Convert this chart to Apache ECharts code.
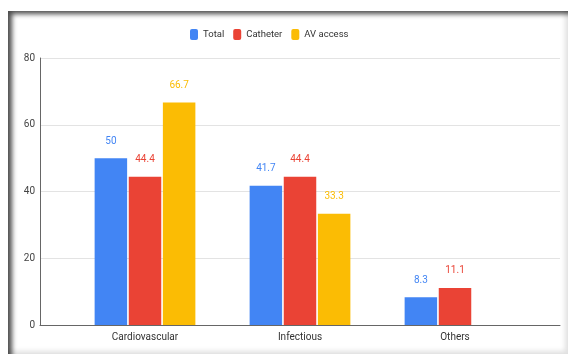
<!DOCTYPE html>
<html>
<head>
<meta charset="utf-8">
<script src="https://cdn.jsdelivr.net/npm/echarts@6/dist/echarts.min.js"></script>
<style>
  html, body { margin: 0; padding: 0; background: #fff; }
  #main { position: absolute; left: 0; top: 0; width: 568px; height: 354px; }
  #frame {
    position: absolute; left: 8px; top: 11px; width: 560px; height: 343px;
    pointer-events: none;
    box-shadow: inset 5px 4px 5px -1px rgba(0,0,0,0.7), inset -5px -5px 5px -2px rgba(0,0,0,0.12);
  }
</style>
</head>
<body>
<div id="main"></div>
<div id="frame"></div>
<script>
const categories = ['Cardiovascular', 'Infectious', 'Others'];
const total = [50, 41.7, 8.3];
const catheter = [44.4, 44.4, 11.1];
const avAccess = [66.7, 33.3, null];
const yTicks = { min: 0, max: 80, interval: 20 };

const colors = ['#4285F4', '#EA4335', '#FBBC04'];
const font = 'Roboto, Arial, sans-serif';

let myChart = echarts.init(document.getElementById('main'));

function barSeries(name, data, color) {
  return {
    name: name,
    type: 'bar',
    xAxisIndex: 1,
    yAxisIndex: 1,
    data: data,
    barWidth: 32.5,
    barGap: '5%',
    itemStyle: { color: color },
    label: {
      show: true,
      position: 'top',
      distance: 12,
      color: color,
      fontSize: 10,
      fontFamily: font
    }
  }
}

myChart.setOption({
  animation: false,
  legend: {
    left: 190,
    top: 29,
    padding: 0,
    itemWidth: 8,
    itemHeight: 11,
    itemGap: 9,
    icon: 'roundRect',
    textStyle: { fontSize: 9.5, color: '#333', fontFamily: font },
    data: ['Total', 'Catheter', 'AV access']
  },
  grid: [
    { left: 40, right: 8, top: 58, bottom: 29 },
    { left: 67.5, right: 35.5, top: 58, bottom: 29 }
  ],
  xAxis: [
    {
      gridIndex: 0,
      type: 'value',
      min: 0,
      max: 1,
      axisLine: { show: true, lineStyle: { color: '#666', width: 1 } },
      axisTick: { show: false },
      axisLabel: { show: false },
      splitLine: { show: false }
    },
    {
      gridIndex: 1,
      type: 'category',
      data: categories,
      axisLine: { show: false },
      axisTick: { show: false },
      axisLabel: { fontSize: 10, color: '#333', margin: 7, fontFamily: font }
    }
  ],
  yAxis: [
    {
      gridIndex: 0,
      type: 'value',
      min: yTicks.min,
      max: yTicks.max,
      interval: yTicks.interval,
      axisLine: { show: true, lineStyle: { color: '#666', width: 1 } },
      axisTick: { show: false },
      axisLabel: { fontSize: 10, color: '#444', margin: 5, fontFamily: font },
      splitLine: { lineStyle: { color: '#e3e3e3', width: 1 } }
    },
    {
      gridIndex: 1,
      type: 'value',
      min: yTicks.min,
      max: yTicks.max,
      interval: yTicks.interval,
      show: false
    }
  ],
  series: [
    barSeries('Total', total, colors[0]),
    barSeries('Catheter', catheter, colors[1]),
    barSeries('AV access', avAccess, colors[2])
  ]
});

window.onresize = function () {
  myChart.resize();
}
</script>
</body>
</html>
